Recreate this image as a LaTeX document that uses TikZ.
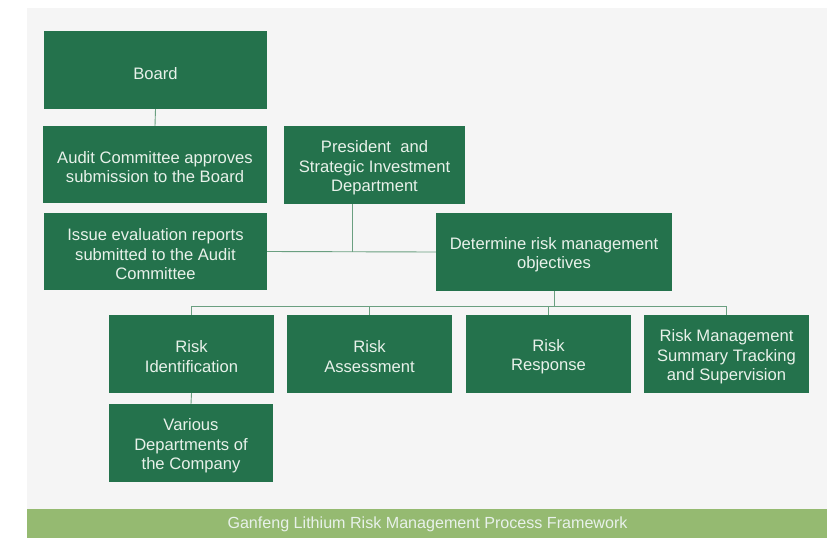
\documentclass[tikz,border=0pt]{standalone}
\usepackage{fontspec}
\setmainfont{Liberation Sans}
\usetikzlibrary{calc}
\definecolor{boxgreen}{HTML}{24724C}
\definecolor{linegreen}{HTML}{6A9F80}
\definecolor{bargreen}{HTML}{95BA71}
\definecolor{panelgray}{HTML}{F5F5F5}
\definecolor{textwhite}{HTML}{E8F1EA}
\newcommand{\toppad}{\rule{0pt}{17.5pt}}
\tikzset{
	greenbox/.style={fill=boxgreen, text=textwhite, inner sep=0pt, align=center,
		font=\fontsize{16.6}{19.6}\selectfont},
	link/.style={draw=linegreen, line width=0.9pt}
}

\begin{document}
\begin{tikzpicture}[x=1pt, y=-1pt]
		%%%%% START %%%%%
		
		\useasboundingbox (0, 0) rectangle (835, 539);
		\fill[white] (0, 0) rectangle (835, 539);
		\fill[panelgray] (27, 8) rectangle (827, 509);
		\fill[bargreen] (27, 509) rectangle (827, 538);
		\node[text=textwhite, font=\fontsize{16.1}{18}\selectfont] (title) at (427.5, 524) {Ganfeng Lithium Risk Management Process Framework};
		
		% left column
		\node[greenbox, minimum width=223, minimum height=78] (board) at (155.5, 70) {\rule{0pt}{20pt}Board};
		\node[greenbox, minimum width=224, minimum height=77] (audit) at (155, 164.5) {\toppad Audit Committee approves\\submission to the Board};
		\node[greenbox, minimum width=223, minimum height=77] (issue) at (155.5, 251.5) {\toppad Issue evaluation reports\\submitted to the Audit\\Committee};
		
		% middle
		\node[greenbox, minimum width=181, minimum height=78] (pres) at (374.5, 165) {\toppad President\ \ and\\Strategic Investment\\Department};
		\node[greenbox, minimum width=236, minimum height=78] (det) at (554, 252) {\toppad Determine risk management\\objectives};
		
		% process steps
		\node[greenbox, minimum width=165, minimum height=78] (ident) at (191.5, 354) {\toppad Risk\\Identification};
		\node[greenbox, minimum width=165, minimum height=78] (assess) at (369.5, 354) {\toppad Risk\\Assessment};
		\node[greenbox, minimum width=165, minimum height=78] (resp) at (548.5, 354) {\toppad Risk\\Response};
		\node[greenbox, minimum width=165, minimum height=78] (track) at (726.5, 354) {\toppad Risk Management\\Summary Tracking\\and Supervision};
		\node[greenbox, minimum width=164, minimum height=78] (depts) at (191, 443) {\toppad Various\\Departments of\\the Company};
		
		% connectors
		\draw[link] (board.south) -- (audit.north);
		\draw[link] (issue.east) -- (det.west);
		\draw[link] ([xshift=-22.5]pres.south) -- ([xshift=-22.5]pres.south |- issue.east);
		
		\coordinate (bus) at (554, 306);
		\draw[link] (det.south) -- (bus);
		\draw[link] (ident.north) -- (ident.north |- bus) -- (track.north |- bus) -- (track.north);
		\foreach \n in {assess, resp}
			\draw[link] (\n.north) -- (\n.north |- bus);
		\draw[link] (ident.south) -- (depts.north);
		
		%%%%% END %%%%%
	\end{tikzpicture}
\end{document}
